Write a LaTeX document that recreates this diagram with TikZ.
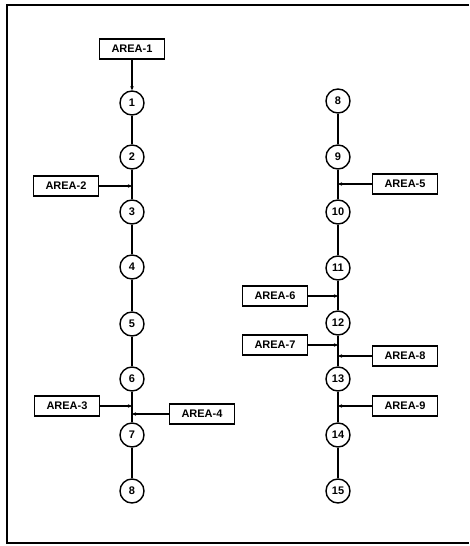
\documentclass[tikz,border=0pt]{standalone}
\usepackage{fontspec}
\setsansfont{Liberation Sans}
\usetikzlibrary{calc,positioning,arrows.meta}

\begin{document}
\begin{tikzpicture}[x=1pt, y=-1pt]
\tikzstyle{vtx}=[circle, draw, line width=1.4pt, fill=white,
                        inner sep=0pt, minimum size=24pt, font=\sffamily\bfseries\fontsize{11}{13}\selectfont]
\tikzstyle{area}=[rectangle, draw, line width=1.2pt, inner sep=2pt,
                        minimum width=65pt, minimum height=20pt, font=\sffamily\bfseries\fontsize{11}{13}\selectfont]
\tikzstyle{feed}=[line width=1.1pt, -{Stealth[length=4pt,width=3.5pt]}]
\useasboundingbox (0,0) rectangle (470,546);
% frame
\draw[line width=1.2pt] (469,5) -- (7,5) -- (7,543) -- (469,543);
% left line
\foreach \k/\y in {1/103,2/157,3/212,4/267,5/324,6/379,7/435,8/491}{
  \node[vtx] (n\k) at (132,\y) {\k};}
\node[area] (A1) at (132,49) {AREA-1};
\node[area] (A2) at (66,186) {AREA-2};
\node[area] (A3) at (67,406) {AREA-3};
\node[area] (A4) at (202,414) {AREA-4};
\coordinate (j2) at (132,186);
\coordinate (j3) at (132,406);
\coordinate (j4) at (132,414);
% right line
\foreach \k/\y in {8/101,9/157,10/212,11/268,12/323,13/379,14/435,15/491}{
  \node[vtx] (m\k) at (338,\y) {\k};}
\node[area] (A5) at (405,184) {AREA-5};
\node[area] (A6) at (275,296) {AREA-6};
\node[area] (A7) at (275,345) {AREA-7};
\node[area] (A8) at (405,356) {AREA-8};
\node[area] (A9) at (405,406) {AREA-9};
\coordinate (j5) at (338,184);
\coordinate (j6) at (338,296);
\coordinate (j7) at (338,345);
\coordinate (j8) at (338,356);
\coordinate (j9) at (338,406);
% lines
\foreach \i/\j in {n1/n2,n2/n3,n3/n4,n4/n5,n5/n6,n6/n7,n7/n8,m8/m9,m9/m10,m10/m11,m11/m12,m12/m13,m13/m14,m14/m15}{\draw[line width=1.3pt] (\i) -- (\j);}
\draw[feed] (A1) -- (n1);
\foreach \a/\b in {A2/j2,A3/j3,A4/j4,A5/j5,A6/j6,A7/j7,A8/j8,A9/j9}{\draw[feed] (\a) -- (\b);}
\end{tikzpicture}
\end{document}
